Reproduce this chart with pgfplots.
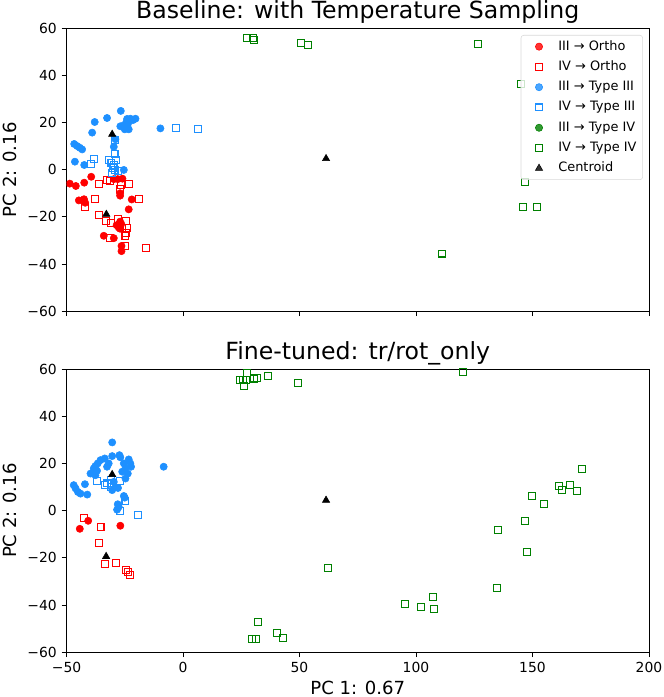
\documentclass[border=0pt]{standalone}
\usepackage{fontspec}
\setmainfont{DejaVu Sans}
\usepackage{pgfplots}
\pgfplotsset{compat=1.18}
\definecolor{cred}{RGB}{255,0,0}
\definecolor{cblue}{RGB}{30,144,255}
\definecolor{cgreen}{RGB}{0,128,0}
\pgfplotsset{
  pcaaxis/.style={
    scale only axis, width=419.4pt, height=204pt,
    xmin=-50, xmax=200, ymin=-60, ymax=60,
    xtick={-50,0,50,100,150,200},
    ytick={-60,-40,-20,0,20,40,60},
    yticklabels={−60,−40,−20,0,20,40,60},
    tick align=outside, xtick pos=bottom, ytick pos=left,
    major tick length=3.5pt,
    tick style={black, line width=0.6pt},
    axis line style={line width=0.6pt},
    tick label style={font=\fontsize{10}{12}\selectfont},
    clip marker paths=true,
    every axis title shift=0pt,
    title style={font=\fontsize{17}{20}\selectfont, at={(axis description cs:0.5,1)}, anchor=base, yshift=6.8pt},
    ylabel={PC 2: 0.16},
    every axis y label/.style={at={([xshift=-40.5pt]axis description cs:0,0.5)}, rotate=90, anchor=center, font=\fontsize{13}{15}\selectfont},
    every axis x label/.style={at={([yshift=-25.5pt]axis description cs:0.5,0)}, anchor=center, font=\fontsize{13}{15}\selectfont},
  },
  fcirc/.style={only marks, mark=*, mark size=2.6pt, color=#1, mark options={draw=none, fill=#1}},
  osq/.style={only marks, mark=square, mark size=2.5pt, color=#1, mark options={line width=0.75pt, draw=#1}},
  cent/.style={only marks, mark=triangle*, mark size=3pt, color=black},
}
\begin{document}
\begin{tikzpicture}
\useasboundingbox (-47.9pt,20.2pt) rectangle (430.2pt,-481.7pt);
% ---------------- top ----------------
\begin{axis}[pcaaxis, at={(0,0)}, anchor=north west,
  title={Baseline: with Temperature Sampling},
  xticklabels={},
  legend cell align=left,
  legend image code/.code={\path[draw=none,fill=none] (-11pt,0pt) rectangle (0pt,0.1pt); \draw[#1] plot coordinates {(0pt,0pt)};},
  legend style={at={(0.9897,0.9755)}, anchor=north east, draw=black!15, rounded corners=2pt,
    fill=white, fill opacity=0.8, text opacity=1, draw opacity=1,
    font=\fontsize{9.3}{10}\selectfont, row sep=0.6pt, inner xsep=2pt, inner ysep=1.2pt,
    nodes={text height=7pt, text depth=2pt, inner sep=2.5pt},
    /tikz/every odd column/.append style={column sep=8.8pt}},
]
\addplot[fcirc=cred] coordinates {
(-48.6,-5.9) (-46,-6.9) (-42.4,-5.5) (-39.4,-3) (-44.7,-13) (-43,-13) (-42,-14) (-42.5,-12.5)
(-34,-28) (-29.7,-29) (-26.4,-32.3) (-26.4,-34.5) (-23.3,-16.8) (-22,-12.6) (-27,-10) (-27,-11)
(-28,-4) (-26,-3.8) (-29.7,-4) (-27,-22) (-27,-25) (-27.6,-24.5) (-26.5,-23) (-28.5,-23.5)
};
\addlegendentry{III → Ortho}
\addplot[osq=cred] coordinates {
(-35.9,-6) (-32.6,-4.4) (-31.4,-4.8) (-37.9,-12.6) (-41.9,-15.7) (-36,-19) (-32.9,-21.7) (-31,-22.7)
(-27.9,-20.8) (-24.3,-21.7) (-26.1,-24.6) (-24.3,-26.7) (-24.7,-28.1) (-24,-24.6) (-26.9,-8.3)
(-23.3,-5.9) (-18.9,-12.6) (-15.7,-33.2) (-31.4,-28.8) (-25,-32.3) (-26.5,-6.5)
};
\addlegendentry{IV → Ortho}
\addplot[fcirc=cblue] coordinates {
(-46.7,10.9) (-45.4,10) (-44.3,9.3) (-43.3,8.6) (-46.4,3.4) (-42.4,2) (-39,15.7) (-37.9,20.2)
(-32.6,21.9) (-26.7,24.9) (-24.3,20.2) (-22.6,21.6) (-20.4,21.6) (-25,17.1) (-23.3,17.1)
(-25.4,18.8) (-23.6,19.5) (-29.7,9.7) (-29,12.9) (-25.4,-0.1) (-9.7,17.5) (-26.9,18.4) (-21.5,21) (-24,21.5)
};
\addlegendentry{III → Type III}
\addplot[osq=cblue] coordinates {
(-39.3,2.5) (-38.3,4.4) (-31.9,4.1) (-30.7,2.7) (-29,12.6) (-29.4,6.5) (-28.6,4.1) (-30.4,-1.3)
(-29.4,-0.1) (-28,-0.6) (-2.9,17.5) (6.4,17.1) (-30,0.8) (-29.5,2)
};
\addlegendentry{IV → Type III}
\addplot[fcirc=cgreen] coordinates {(215,0)};
\addlegendentry{III → Type IV}
\addplot[osq=cgreen] coordinates {
(27.6,55.9) (30.2,55.6) (30.4,54.8) (50.6,53.5) (53.8,52.7) (126.6,53.2) (144.9,36.4)
(146.6,-5.1) (146,-15.7) (151.8,-15.8) (111,-35.5)
};
\addlegendentry{IV → Type IV}
\addplot[cent] coordinates {(-30.4,15) (-32.9,-18.9) (61.4,4.7)};
\addlegendentry{Centroid}
\end{axis}
% ---------------- bottom ----------------
\begin{axis}[pcaaxis, at={(0,-245.5pt)}, anchor=north west,
  title={Fine-tuned: tr/rot\_only},
  xticklabels={−50,0,50,100,150,200},
  xlabel={PC 1: 0.67},
]
\addplot[fcirc=cred] coordinates {(-44.3,-7.7) (-40.7,-4.3) (-26.9,-6.4)};
\addplot[osq=cred] coordinates {
(-42.6,-3) (-35.4,-7) (-36.1,-13.8) (-33.3,-22.6) (-28.6,-22.1) (-24.3,-25.1) (-23.7,-26.1) (-22.6,-27.1)
};
\addplot[fcirc=cblue] coordinates {
(-46.9,10.8) (-46.1,9.4) (-45.1,7.9) (-44,7.2) (-42.1,11.2) (-41.1,6.8) (-39.7,15.7) (-38.3,17.9)
(-37.6,18.9) (-36.6,20) (-35.4,21.4) (-33.6,22.1) (-30.4,28.9) (-30.4,23.1) (-27.3,23.5) (-26.9,22.6)
(-23.3,21.7) (-22.6,20) (-22.3,18.6) (-25.4,20) (-24.7,17.9) (-26.1,16.5) (-30.4,8.7) (-29,10)
(-27.9,9.6) (-25.4,6.2) (-25,5.5) (-28,2.7) (-27.6,1.6) (-28.3,0.4) (-8.3,18.6) (-37.6,15) (-38.6,16)
(-36.9,16.9) (-32.6,18.6) (-31.9,20) (-24.7,13.6) (-23.7,15.7) (-29.7,12.2)
};
\addplot[osq=cblue] coordinates {
(-36.9,12.6) (-33.6,10.8) (-32.6,11.5) (-31.1,12.9) (-30.4,11.5) (-30.9,10) (-27.1,12.6)
(-24.7,4.1) (-27.1,-0.1) (-19.4,-1.8)
};
\addplot[fcirc=cgreen] coordinates {(200.4,2)};
\addplot[osq=cgreen] coordinates {
(24.6,55.5) (25.7,55.2) (26.3,52.9) (27.4,58.3) (27,55.5) (30.3,56.2) (31.7,56.2) (30.5,55.9)
(36.6,56.9) (49.5,54.2) (120,58.7) (62.4,-24.2) (32.3,-47.2) (40.5,-51.9) (43.1,-53.8)
(29.5,-54.2) (31.3,-54.2) (95.4,-39.4) (102.3,-40.7) (107.3,-36.6) (107.6,-41.7) (134.6,-32.6)
(135.3,-8.3) (146.6,-4.4) (147.8,-17.4) (149.7,6.1) (154.9,2.8) (161.5,10.6) (162.5,8.6)
(166.1,10.7) (169,8.3) (171.4,17.6)
};
\addplot[cent] coordinates {(-30.4,15.3) (-33,-19.4) (61.4,4.4)};
\end{axis}
\end{tikzpicture}
\end{document}
